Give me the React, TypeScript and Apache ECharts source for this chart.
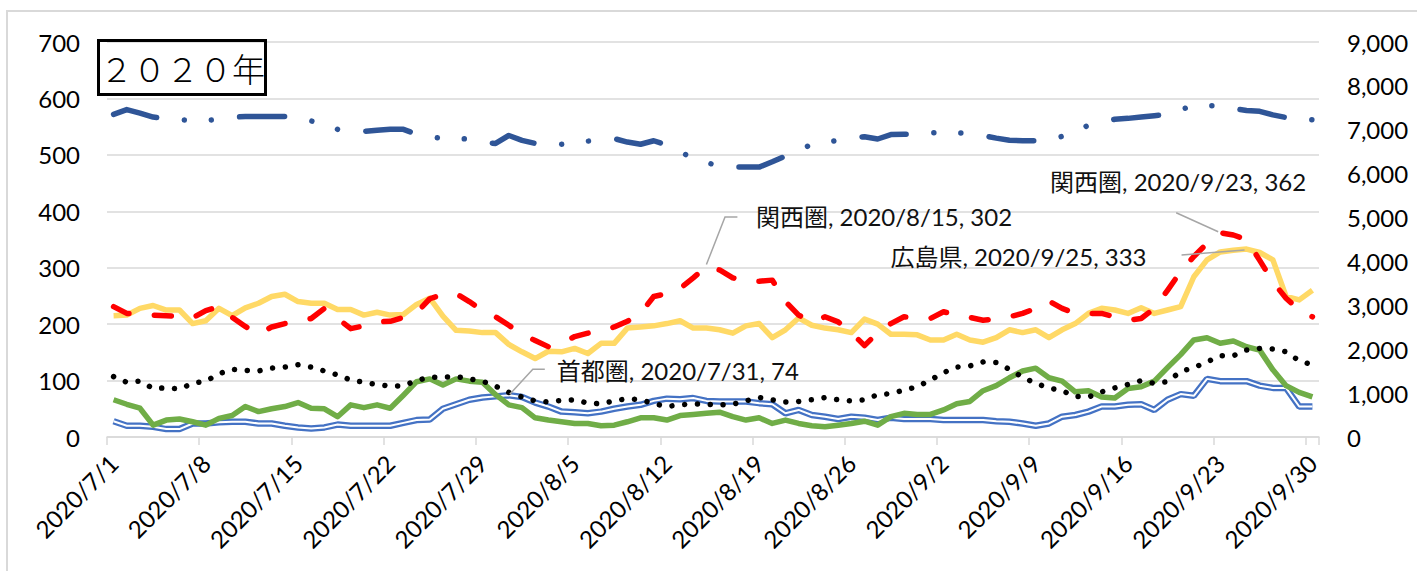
import React, { useEffect, useRef } from "react";
import * as echarts from "echarts";

function buildDates(): string[] {
  const months: [number, number][] = [[7, 31], [8, 31], [9, 30]];
  const out: string[] = [];
  for (const [m, n] of months) for (let d = 1; d <= n; d++) out.push(`2020/${m}/${d}`);
  return out;
}
const categories = buildDates();

const titleText = "２０２０年";

// 首都圏 (left axis)
const shutoken = [
  28, 20, 20, 18, 14, 14, 24, 24, 26, 27, 27, 24, 24, 20, 17,
  15, 17, 22, 20, 20, 20, 20, 25, 30, 31, 50, 58, 66, 70, 72,
  74, 71, 61, 54, 45, 44, 42, 45, 50, 54, 57, 64, 68, 67, 69,
  64, 63, 63, 63, 60, 58, 42, 48, 39, 36, 32, 36, 34, 30, 34,
  32, 32, 32, 30, 30, 30, 30, 28, 27, 24, 20, 24, 36, 39, 45, 54,
  54, 57, 58, 48, 66, 76, 73, 103, 99, 99, 99, 91, 87, 87, 54, 54,
];
// 関西圏 (left axis)
const kansai = [
  231, 219, 219, 216, 215, 214, 211, 224, 231, 212, 196, 182, 195, 201, 204,
  210, 228, 210, 192, 197, 204, 205, 212, 220, 245, 253, 254, 240, 224, 213,
  198, 182, 171, 160, 166, 178, 184, 188, 195, 205, 219, 249, 254, 263, 282,
  302, 296, 282, 276, 276, 278, 240, 216, 204, 213, 204, 185, 162, 185, 201,
  213, 211, 210, 222, 216, 212, 207, 209, 213, 219, 228, 241, 228, 219, 219, 219,
  213, 207, 210, 228, 260, 293, 320, 343, 362, 358, 350, 313, 275, 246, 225, 213,
];
// 広島県 (left axis)
const hiroshima = [
  215, 216, 228, 233, 225, 225, 201, 206, 228, 215, 229, 237, 249, 253, 240,
  237, 237, 226, 226, 216, 221, 216, 217, 235, 246, 214, 189, 188, 185, 185,
  164, 151, 139, 152, 151, 157, 148, 166, 166, 193, 195, 197, 201, 206, 193,
  193, 190, 184, 197, 201, 176, 190, 211, 198, 193, 190, 185, 209, 200, 182,
  182, 181, 172, 172, 182, 172, 168, 176, 190, 185, 190, 176, 190, 201, 219, 228,
  225, 219, 229, 219, 225, 231, 284, 314, 328, 331, 333, 327, 314, 249, 243, 260,
];
// green line (left axis)
const greenValues = [
  66, 58, 51, 21, 30, 32, 27, 21, 33, 38, 54, 45, 50, 54, 61,
  51, 50, 36, 57, 52, 57, 51, 74, 98, 103, 92, 103, 99, 97, 75,
  57, 52, 34, 30, 27, 24, 24, 20, 21, 27, 34, 34, 30, 38, 40,
  42, 44, 36, 30, 34, 24, 30, 24, 20, 18, 21, 24, 28, 21, 36,
  42, 40, 40, 48, 59, 63, 82, 91, 105, 117, 122, 105, 99, 80, 82, 71,
  69, 86, 89, 99, 123, 146, 172, 176, 166, 170, 160, 154, 119, 91, 79, 71,
];
// black dotted line (left axis)
const blackValues = [
  107, 97, 99, 86, 87, 85, 95, 99, 112, 120, 118, 117, 122, 124, 128,
  124, 117, 110, 101, 97, 93, 90, 91, 100, 106, 106, 107, 103, 99, 90,
  79, 71, 64, 62, 65, 66, 60, 59, 64, 68, 66, 59, 54, 57, 59,
  58, 57, 58, 64, 70, 66, 62, 63, 66, 70, 66, 64, 66, 75, 77,
  83, 89, 101, 114, 124, 126, 133, 132, 120, 106, 95, 87, 82, 72, 71, 80,
  87, 93, 100, 95, 98, 116, 123, 133, 144, 144, 154, 157, 156, 151, 135, 128,
];
// navy dash-dot line (right axis)
const navyValues = [
  7350, 7460, 7380, 7290, 7250, 7230, 7210, 7210, 7240, 7290, 7300, 7300, 7300, 7300, 7280,
  7200, 7140, 7010, 6960, 6960, 6990, 7010, 7010, 6900, 6840, 6800, 6800, 6790, 6710, 6690,
  6870, 6760, 6690, 6670, 6670, 6700, 6740, 6780, 6800, 6720, 6670, 6750, 6650, 6490, 6360,
  6260, 6160, 6150, 6150, 6150, 6270, 6400, 6530, 6670, 6710, 6760, 6810, 6840, 6790, 6890,
  6900, 6900, 6930, 6940, 6930, 6920, 6870, 6810, 6760, 6750, 6750, 6780, 6850, 6980, 7100, 7170,
  7240, 7260, 7290, 7320, 7350, 7460, 7550, 7550, 7550, 7480, 7440, 7420, 7340, 7280, 7240, 7230,
];

const leftTicks = { min: 0, max: 700, interval: 100 };
const rightTicks = { min: 0, max: 9000, interval: 1000 };

const annotations = [
  { series: "関西圏", date: "2020/8/15" },
  { series: "関西圏", date: "2020/9/23" },
  { series: "広島県", date: "2020/9/25" },
  { series: "首都圏", date: "2020/7/31" },
];

const seriesByName: Record<string, number[]> = {
  首都圏: shutoken,
  関西圏: kansai,
  広島県: hiroshima,
};

// leader-line geometry, relative to the labelled point
const annotationLayout = [
  { line: [[0, -2], [18.6, -49.6], [31, -49.6]], text: [49.6, -49.6], align: "left" },
  { line: [[-2, -1], [-44, -20]], text: [86, -51], align: "right" },
  { line: [[-2, 1], [-65, 6]], text: [-100, 7.6], align: "right" },
  { line: [[1, -1], [24, -26], [36, -26]], text: [48, -24.5], align: "left" },
];

const FONT = 'Lato, "Noto Sans CJK JP", sans-serif';
const GRID = "#D9D9D9";

export default function App() {
  const ref = useRef<HTMLDivElement>(null);
  useEffect(() => {
    if (!ref.current) return;
    const chart = echarts.init(ref.current, null, { renderer: "svg" });
    const solid = (color: string, width: number) => ({ color, width, type: "solid" as const });
    const option: any = {
      animation: false,
      title: {
        text: titleText,
        left: 98,
        top: 40,
        padding: [11, 1, 11, 2],
        borderColor: "#000",
        borderWidth: 3,
        textStyle: {
          fontFamily: '"Noto Sans CJK JP", sans-serif',
          fontSize: 33,
          fontWeight: 300,
          color: "#000",
        },
      },
      grid: { left: 107, right: 98, top: 42, bottom: 134, containLabel: false },
      xAxis: {
        type: "category",
        data: categories,
        boundaryGap: true,
        axisLine: { show: true, lineStyle: { color: GRID, width: 1.5 } },
        axisTick: { show: true, interval: 6, length: 8, lineStyle: { color: GRID, width: 1.5 } },
        axisLabel: {
          interval: 6,
          rotate: 45,
          margin: 22,
          fontSize: 24,
          fontFamily: FONT,
          color: "#000",
        },
        splitLine: { show: false },
      },
      yAxis: [
        {
          type: "value",
          ...leftTicks,
          axisLine: { show: false },
          axisTick: { show: false },
          axisLabel: { fontSize: 24, fontFamily: FONT, color: "#000", margin: 27 },
          splitLine: { show: true, lineStyle: { color: GRID, width: 1.5 } },
        },
        {
          type: "value",
          ...rightTicks,
          position: "right",
          axisLine: { show: false },
          axisTick: { show: false },
          axisLabel: {
            fontSize: 24,
            fontFamily: FONT,
            color: "#000",
            margin: 28,
            formatter: (v: number) => v.toLocaleString("en-US"),
          },
          splitLine: { show: false },
        },
      ],
      series: [
        {
          name: "navy",
          type: "line",
          yAxisIndex: 1,
          data: navyValues,
          symbol: "none",
          lineStyle: { color: "#2F5597", width: 5.5, type: [45, 27.8, 0.01, 27, 0.01, 28.5], cap: "round", join: "round" },
        },
        {
          name: "首都圏",
          type: "line",
          data: shutoken,
          symbol: "none",
          lineStyle: solid("#4472C4", 6.5),
        },
        {
          name: "首都圏-inner",
          type: "line",
          data: shutoken,
          symbol: "none",
          silent: true,
          lineStyle: solid("#FFFFFF", 2),
        },
        {
          name: "green",
          type: "line",
          data: greenValues,
          symbol: "none",
          lineStyle: { ...solid("#70AD47", 5.5), join: "round" },
        },
        {
          name: "広島県",
          type: "line",
          data: hiroshima,
          symbol: "none",
          lineStyle: { ...solid("#FFD966", 5.5), join: "round" },
        },
        {
          name: "black",
          type: "line",
          data: blackValues,
          symbol: "none",
          lineStyle: { color: "#000", width: 5.5, type: [0.01, 12.8], cap: "round" },
        },
        {
          name: "関西圏",
          type: "line",
          data: kansai,
          symbol: "none",
          lineStyle: { color: "#FF0000", width: 5.5, type: [17, 25.5], cap: "round", join: "round" },
        },
      ],
    };
    chart.setOption(option);

    const graphics: any[] = [];
    annotations.forEach((a, i) => {
      const idx = categories.indexOf(a.date);
      const value = seriesByName[a.series][idx];
      const p = chart.convertToPixel({ xAxisIndex: 0, yAxisIndex: 0 }, [idx, value]) as number[];
      const lay = annotationLayout[i];
      graphics.push({
        type: "polyline",
        silent: true,
        z: 100,
        shape: { points: lay.line.map(([dx, dy]) => [p[0] + dx, p[1] + dy]) },
        style: { stroke: "#A6A6A6", lineWidth: 1.5, fill: "none" },
      });
      graphics.push({
        type: "text",
        silent: true,
        z: 100,
        style: {
          text: `${a.series}, ${a.date}, ${value}`,
          x: p[0] + lay.text[0],
          y: p[1] + lay.text[1],
          fill: "#111",
          fontSize: 24,
          fontFamily: FONT,
          textAlign: lay.align,
          textVerticalAlign: "middle",
          align: lay.align,
          verticalAlign: "middle",
        },
      });
    });
    chart.setOption({ graphic: graphics });

    return () => chart.dispose();
  }, []);

  return (
    <div style={{ position: "absolute", left: 0, top: 0, width: 1417, height: 571, overflow: "hidden", background: "#fff" }}>
      <div
        style={{
          position: "absolute",
          left: 6,
          top: 10,
          width: 1440,
          height: 600,
          borderLeft: `2px solid ${GRID}`,
          borderTop: `2px solid ${GRID}`,
        }}
      />
      <div ref={ref} style={{ position: "absolute", left: 0, top: 0, width: 1417, height: 571 }} />
    </div>
  );
}
